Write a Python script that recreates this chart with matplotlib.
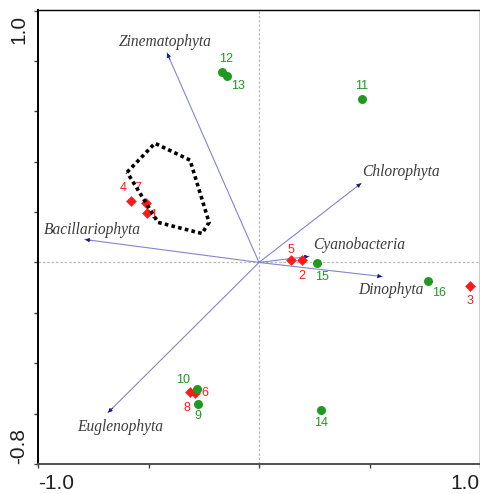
import numpy as np
import matplotlib.pyplot as plt

# site scores on axis 1 / axis 2 (red diamonds: sites 1-8, green circles: 9-16)
red_ids = ['1', '2', '3', '4', '5', '6', '7', '8']
red_x = [-0.507, 0.195, 0.955, -0.579, 0.145, -0.290, -0.511, -0.312]
red_y = [0.195, 0.008, -0.095, 0.243, 0.008, -0.517, 0.235, -0.513]

green_ids = ['9', '10', '11', '12', '13', '14', '15', '16']
green_x = [-0.276, -0.281, 0.466, -0.167, -0.145, 0.281, 0.262, 0.765]
green_y = [-0.561, -0.501, 0.648, 0.755, 0.740, -0.584, -0.004, -0.072]

# phylum vectors
taxa = ['Zinematophyta', 'Bacillariophyta', 'Chlorophyta',
        'Cyanobacteria', 'Dinophyta', 'Euglenophyta']
taxa_x = [-0.416, -0.787, 0.462, 0.226, 0.557, -0.683]
taxa_y = [0.831, 0.091, 0.314, 0.024, -0.056, -0.596]

# dotted group outline
hull_x = [-0.597, -0.471, -0.312, -0.226, -0.258, -0.457]
hull_y = [0.358, 0.473, 0.406, 0.159, 0.115, 0.159]

# label offsets in pixels (style only)
red_off = [(7, -2), (0, -16), (0, -15), (-8, 13), (0, 10), (10, 0), (-8, 15), (-3, -16)]
green_off = [(0, -12), (-14, 9), (0, 13), (4, 13), (11, -10), (0, -13), (5, -14), (11, -12)]
taxa_off = [(-2, 11), (7, 10), (40, 11), (50, 11), (9, -13), (12, -14)]

RED = '#ff1a1a'
GREEN = '#1e9a1e'
LINE = '#8484d0'
HEAD = '#1a1a80'

fig = plt.figure(figsize=(4.81, 4.94), dpi=100)
ax = fig.add_axes([38 / 481, 30 / 494, 442 / 481, 453.5 / 494])
ax.set_xlim(-1.0, 1.0)
ax.set_ylim(-0.8, 1.0)

# zero lines
ax.axhline(0, color='#b8b8b8', lw=0.9, ls=(0, (2, 1.5)), zorder=0)
ax.axvline(0, color='#b8b8b8', lw=0.9, ls=(0, (2, 1.5)), zorder=0)

# vectors
for name, x, y, off in zip(taxa, taxa_x, taxa_y, taxa_off):
    ax.plot([0, x], [0, y], color=LINE, lw=0.8, zorder=1)
    ax.annotate('', xy=(x, y), xytext=(x * 0.97, y * 0.97),
                arrowprops=dict(arrowstyle='-|>', color=HEAD, lw=0.6,
                                mutation_scale=6, shrinkA=0, shrinkB=0),
                zorder=2)
    ax.annotate(name, xy=(x, y), xytext=off, textcoords='offset pixels',
                ha='center', va='center', fontsize=11.2, style='italic',
                family='Liberation Serif', color='#3c3c3c')

# sites
ax.scatter(red_x, red_y, marker='D', s=30, color=RED, lw=0, zorder=3)
ax.scatter(green_x, green_y, marker='o', s=42, color=GREEN, lw=0, zorder=3)
for sid, x, y, off in zip(red_ids, red_x, red_y, red_off):
    ax.annotate(sid, xy=(x, y), xytext=off, textcoords='offset pixels',
                ha='center', va='center', fontsize=9, color=RED,
                family='Liberation Sans', zorder=2)
for sid, x, y, off in zip(green_ids, green_x, green_y, green_off):
    ax.annotate(sid, xy=(x, y), xytext=off, textcoords='offset pixels',
                ha='center', va='center', fontsize=9, color=GREEN,
                family='Liberation Sans', zorder=2)

# group outline
ax.fill(hull_x, hull_y, fill=False, edgecolor='black', lw=2.6,
        ls=(0, (1, 0.9)), zorder=4)

# axes frame and ticks
for side in ['left', 'top', 'right']:
    ax.spines[side].set_color('black')
    ax.spines[side].set_linewidth(1.0)
ax.spines['bottom'].set_color('#505050')
ax.spines['bottom'].set_linewidth(1.4)
ax.spines['left'].set_linewidth(1.4)

ax.set_xticks(np.arange(-1.0, 1.01, 0.5))
ax.set_yticks(np.arange(-0.8, 1.01, 0.2))
ax.set_xticklabels([])
ax.set_yticklabels([])
ax.tick_params(direction='out', length=3, width=1, color='#404040')

lab = dict(fontsize=15, family='Liberation Sans', color='#202020')
ax.text(0.0, -0.022, '-1.0', transform=ax.transAxes, ha='left', va='top', **lab)
ax.text(1.0, -0.022, '1.0', transform=ax.transAxes, ha='right', va='top', **lab)
ax.text(-0.022, 0.99, '1.0', transform=ax.transAxes, ha='right', va='top',
        rotation=90, **lab)
ax.text(-0.022, 0.0, '-0.8', transform=ax.transAxes, ha='right', va='bottom',
        rotation=90, **lab)

fig.savefig('out.png', dpi=100)
